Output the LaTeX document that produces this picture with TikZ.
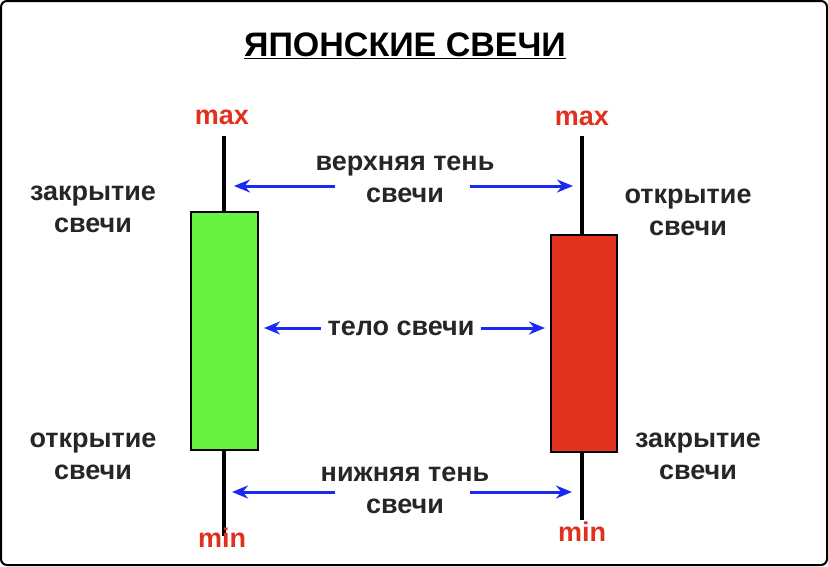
\documentclass[tikz,border=0pt]{standalone}
\usepackage{fontspec}
\setmainfont{Liberation Sans}
\usetikzlibrary{arrows.meta}
\definecolor{bull}{HTML}{66F23E}
\definecolor{bear}{HTML}{E2321E}
\definecolor{lblred}{HTML}{E0301E}
\definecolor{arr}{HTML}{1A2BF0}
\begin{document}
\begin{tikzpicture}[x=1pt,y=-1pt,
  lbl/.style={font=\fontsize{27}{32}\selectfont\bfseries, align=center, text=black!85, inner sep=0pt},
  ext/.style={font=\fontsize{27}{30}\selectfont\bfseries, text=lblred},
  wick/.style={line width=4pt, black},
  body/.style={draw=black, line width=2.5pt},
  barrow/.style={draw=arr, line width=3pt, -{Stealth[length=16pt,width=13pt]}}]
\useasboundingbox (0,0) rectangle (828,566);
\draw[line width=2pt, rounded corners=6pt] (1,1) rectangle (827,565);
\node[font=\fontsize{34}{38}\selectfont\bfseries] (title) at (405,46) {\underline{ЯПОНСКИЕ СВЕЧИ}};
% left candle
\coordinate (lt) at (224,136); \coordinate (lb) at (224,536);
\draw[wick] (lt) -- (lb);
\draw[body, fill=bull] (191,212) rectangle (258,450);
% right candle
\coordinate (rt) at (582,136); \coordinate (rb) at (582,520);
\draw[wick] (rt) -- (rb);
\draw[body, fill=bear] (551,235) rectangle (617,452);
\node[ext] (lmax) at (222,117) {max};
\node[ext] (rmax) at (582,118) {max};
\node[ext] (lmin) at (222,538) {min};
\node[ext] (rmin) at (582,532) {min};
\node[lbl] (lclose) at (93,209) {закрытие\\свечи};
\node[lbl] (ropen) at (688,212) {открытие\\свечи};
\node[lbl] (lopen) at (93,456) {открытие\\свечи};
\node[lbl] (rclose) at (698,456) {закрытие\\свечи};
\node[lbl] (upper) at (405,179) {верхняя тень\\свечи};
\node[lbl] (bodyl) at (401,328) {тело свечи};
\node[lbl] (lower) at (405,490) {нижняя тень\\свечи};
\coordinate (u1) at (234,186); \coordinate (u2) at (573,186);
\coordinate (m1) at (264,328); \coordinate (m2) at (545,328);
\coordinate (d1) at (232,492); \coordinate (d2) at (572,492);
\draw[barrow] (335,186) -- (u1);
\draw[barrow] (470,186) -- (u2);
\draw[barrow] ([xshift=-6pt]bodyl.west) -- (m1);
\draw[barrow] ([xshift=6pt]bodyl.east) -- (m2);
\draw[barrow] (335,492) -- (d1);
\draw[barrow] (470,492) -- (d2);
\end{tikzpicture}
\end{document}
